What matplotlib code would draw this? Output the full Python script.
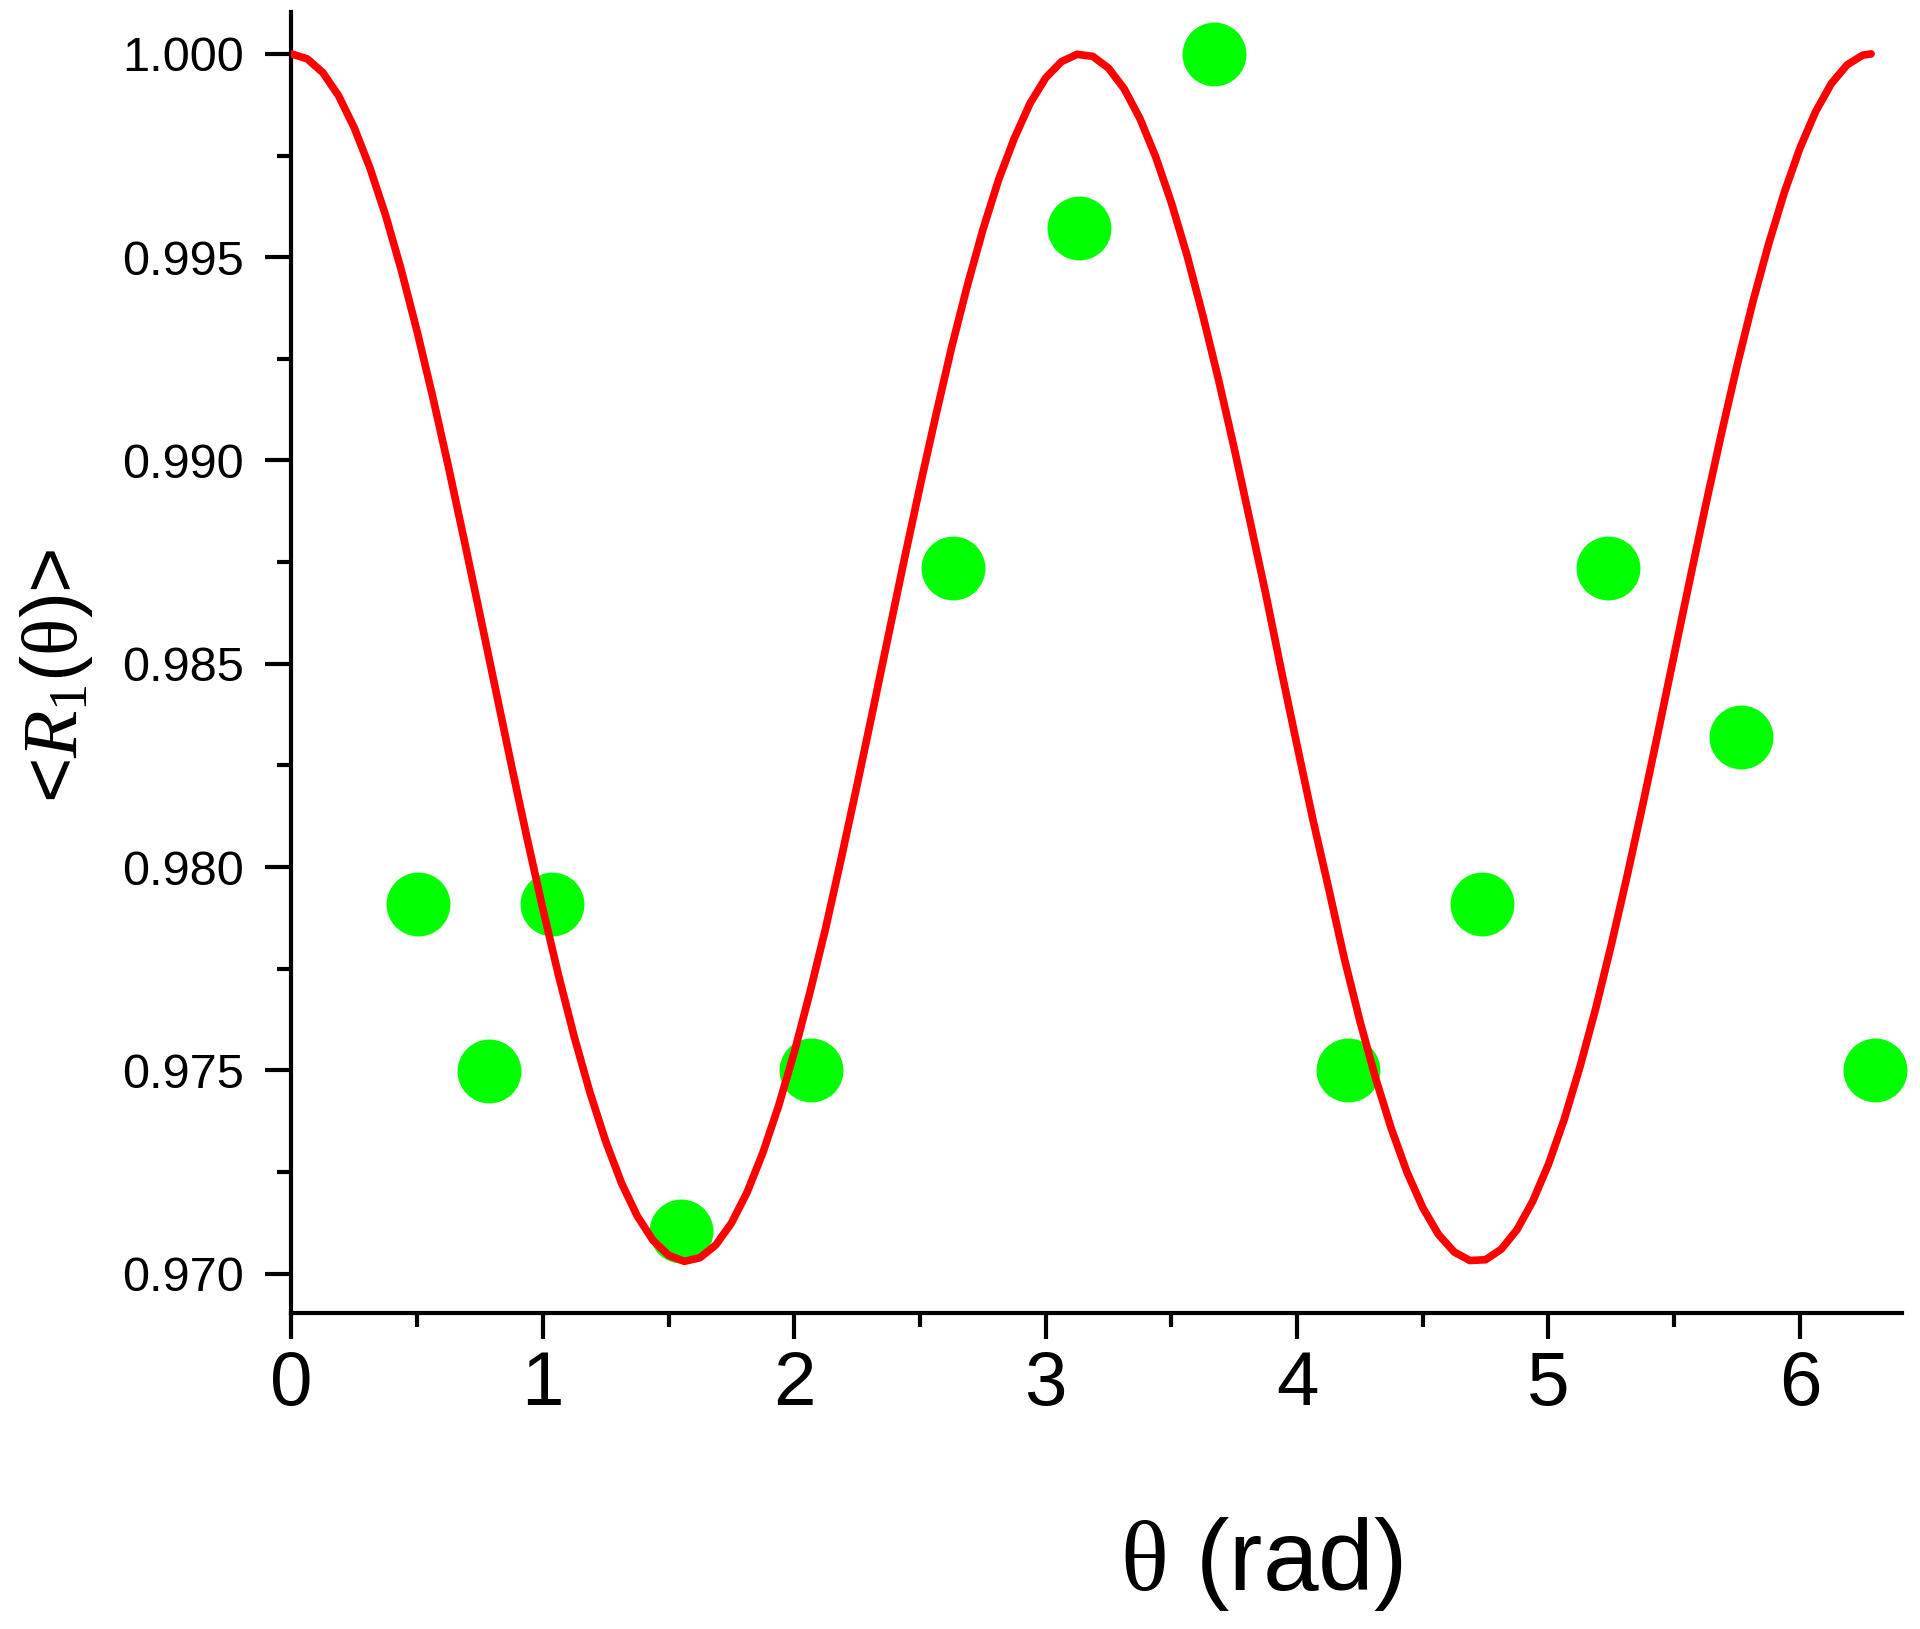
import matplotlib
matplotlib.use("Agg")
import matplotlib.pyplot as plt
from matplotlib.ticker import MultipleLocator, FormatStrFormatter

plt.rcParams['font.family'] = ['Liberation Sans', 'DejaVu Sans']
plt.rcParams['mathtext.fontset'] = 'custom'
plt.rcParams['mathtext.rm'] = 'Liberation Serif'
plt.rcParams['mathtext.it'] = 'Liberation Serif:italic'

# measured points (green)
theta_pts = [0.502, 0.786, 1.035, 1.549, 2.065, 2.630, 3.132,
             3.668, 4.204, 4.735, 5.236, 5.767, 6.298]
r_pts = [0.97909, 0.97499, 0.97909, 0.97105, 0.97500, 0.98735, 0.99572,
         1.00000, 0.97500, 0.97909, 0.98735, 0.98319, 0.97500]

# red curve
theta_curve = [0.0, 0.0625, 0.125, 0.1875, 0.25, 0.3125, 0.375, 0.4375,
               0.5, 0.5625, 0.625, 0.6875, 0.75, 0.8125, 0.875, 0.9375,
               1.0, 1.0625, 1.125, 1.1875, 1.25, 1.3125, 1.375, 1.4375,
               1.5, 1.5625, 1.625, 1.6875, 1.75, 1.8125, 1.875, 1.9375,
               2.0, 2.0625, 2.125, 2.1875, 2.25, 2.3125, 2.375, 2.4375,
               2.5, 2.5625, 2.625, 2.6875, 2.75, 2.8125, 2.875, 2.9375,
               3.0, 3.0625, 3.125, 3.1875, 3.25, 3.3125, 3.375, 3.4375,
               3.5, 3.5625, 3.625, 3.6875, 3.75, 3.8125, 3.875, 3.9375,
               4.0, 4.0625, 4.125, 4.1875, 4.25, 4.3125, 4.375, 4.4375,
               4.5, 4.5625, 4.625, 4.6875, 4.75, 4.8125, 4.875, 4.9375,
               5.0, 5.0625, 5.125, 5.1875, 5.25, 5.3125, 5.375, 5.4375,
               5.5, 5.5625, 5.625, 5.6875, 5.75, 5.8125, 5.875, 5.9375,
               6.0, 6.0625, 6.125, 6.1875, 6.25, 6.2832]
r_curve = [1.00000, 0.99988, 0.99954, 0.99897, 0.99818, 0.99719, 0.99602,
           0.99467, 0.99317, 0.99155, 0.98983, 0.98803, 0.98620, 0.98435,
           0.98250, 0.98070, 0.97897, 0.97733, 0.97582, 0.97445, 0.97325,
           0.97223, 0.97142, 0.97082, 0.97045, 0.97030, 0.97039, 0.97070,
           0.97124, 0.97200, 0.97297, 0.97412, 0.97544, 0.97692, 0.97850,
           0.98023, 0.98202, 0.98385, 0.98571, 0.98756, 0.98936, 0.99109,
           0.99276, 0.99428, 0.99567, 0.99690, 0.99792, 0.99878, 0.99941,
           0.99981, 0.99999, 0.99994, 0.99965, 0.99914, 0.99841, 0.99747,
           0.99634, 0.99504, 0.99357, 0.99199, 0.99030, 0.98852, 0.98673,
           0.98483, 0.98299, 0.98118, 0.97949, 0.97776, 0.97621, 0.97480,
           0.97356, 0.97249, 0.97162, 0.97096, 0.97053, 0.97032, 0.97034,
           0.97060, 0.97108, 0.97178, 0.97269, 0.97379, 0.97508, 0.97651,
           0.97809, 0.97977, 0.98153, 0.98336, 0.98522, 0.98707, 0.98889,
           0.99065, 0.99233, 0.99389, 0.99531, 0.99658, 0.99768, 0.99858,
           0.99927, 0.99973, 0.99997, 1.00000]

fig = plt.figure(figsize=(19.2, 16.29), dpi=100)
ax = fig.add_axes([0.1518, 0.1940, 0.8388, 0.7986])

ax.plot(theta_pts, r_pts, 'o', color='#00ff00', markersize=46,
        markeredgewidth=0, clip_on=False, zorder=2)
ax.plot(theta_curve, r_curve, '-', color='#ff0000', linewidth=5.5,
        solid_capstyle='round', solid_joinstyle='round', zorder=3)

ax.set_xlim(0, 6.406)
ax.set_ylim(0.96903, 1.00103)

ax.spines['top'].set_visible(False)
ax.spines['right'].set_visible(False)
for s in ('left', 'bottom'):
    ax.spines[s].set_linewidth(3.0)

ax.xaxis.set_major_locator(MultipleLocator(1))
ax.xaxis.set_minor_locator(MultipleLocator(0.5))
ax.yaxis.set_major_locator(MultipleLocator(0.005))
ax.yaxis.set_minor_locator(MultipleLocator(0.0025))
ax.yaxis.set_major_formatter(FormatStrFormatter('%.3f'))

ax.tick_params(axis='both', which='major', direction='out', length=19, width=3.0)
ax.tick_params(axis='both', which='minor', direction='out', length=10, width=3.0)
ax.tick_params(axis='x', which='major', labelsize=55, pad=8)
ax.tick_params(axis='y', which='major', labelsize=35, pad=15)

ax.set_xlabel(r'$\mathrm{\theta}$ (rad)', fontsize=72)
ax.xaxis.set_label_coords(0.602, -0.155)
ax.set_ylabel(r'<$\mathit{R}_{\mathit{1}}$($\mathrm{\theta}$)>', fontsize=56)
ax.yaxis.set_label_coords(-0.122, 0.49)

fig.savefig('out.png', dpi=100)
